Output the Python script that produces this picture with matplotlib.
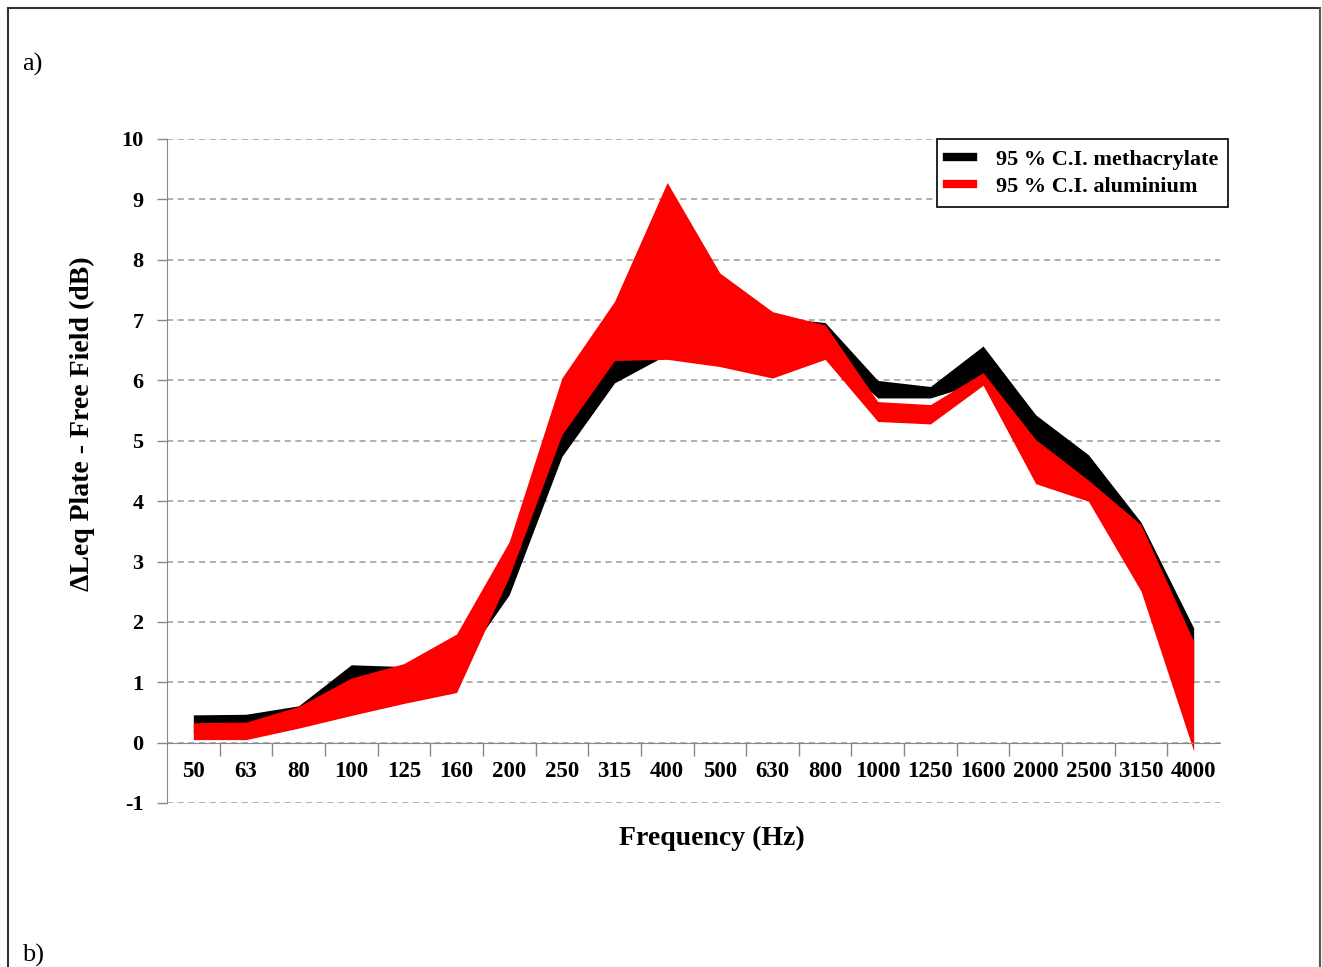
import matplotlib
matplotlib.use("Agg")
import matplotlib.pyplot as plt
import numpy as np
from matplotlib.lines import Line2D

plt.rcParams['font.family'] = ['Liberation Serif', 'DejaVu Serif']
plt.rcParams['font.weight'] = 'bold'
plt.rcParams['axes.unicode_minus'] = False

# one-third octave bands
freqs = ['50', '63', '80', '100', '125', '160', '200', '250', '315', '400',
         '500', '630', '800', '1000', '1250', '1600', '2000', '2500', '3150', '4000']

# 95 % confidence interval, methacrylate plate (dB)
meth_hi = [0.46, 0.47, 0.61, 1.29, 1.26, 1.70, 3.10, 5.60, 6.90, 7.40,
           7.20, 7.05, 6.96, 6.00, 5.90, 6.57, 5.43, 4.77, 3.65, 1.90]
meth_lo = [0.15, 0.15, 0.35, 0.60, 0.80, 1.20, 2.45, 4.74, 5.96, 6.43,
           6.40, 6.20, 6.50, 5.71, 5.71, 5.98, 4.80, 4.30, 3.00, 1.00]

# 95 % confidence interval, aluminium plate (dB)
alu_hi = [0.33, 0.34, 0.60, 1.07, 1.31, 1.80, 3.33, 6.04, 7.31, 9.28,
          7.78, 7.14, 6.92, 5.65, 5.60, 6.13, 5.02, 4.35, 3.61, 1.68]
alu_lo = [0.05, 0.05, 0.24, 0.45, 0.65, 0.83, 2.75, 5.10, 6.33, 6.35,
          6.23, 6.04, 6.35, 5.32, 5.28, 5.92, 4.29, 4.00, 2.51, -0.14]

x = np.arange(len(freqs))

fig = plt.figure(figsize=(13.22, 9.67), dpi=100)
ax = fig.add_axes([167/1322, 1 - 803/967, (1220 - 167)/1322, (803 - 139)/967])

ax.fill_between(x, meth_lo, meth_hi, color='black', lw=0, zorder=3)
ax.fill_between(x, alu_lo, alu_hi, color='#ff0000', lw=0, zorder=4)

ax.set_xlim(-0.5, len(freqs) - 0.5)
ax.set_ylim(-1, 10)

# y axis
ax.set_yticks(range(-1, 11))
ax.yaxis.grid(True, linestyle=(0, (4, 3)), color='#9a9a9a', lw=1.1, zorder=0)
ax.tick_params(axis='y', direction='out', length=7, width=1, color='#888888',
               labelsize=16, pad=10)

# x axis: ticks between bands, labels on bands
ax.set_xticks(x[:-1] + 0.5)
ax.set_xticklabels([])
ax.set_xticks(x, minor=True)
ax.set_xticklabels(freqs, minor=True)
ax.tick_params(axis='x', which='major', direction='out', length=9, width=1,
               color='#888888')
ax.tick_params(axis='x', which='minor', length=0, pad=13, labelsize=16.5)

for s in ['top', 'right']:
    ax.spines[s].set_visible(False)
ax.spines['left'].set_color('#888888')
ax.spines['bottom'].set_color('#888888')
ax.spines['bottom'].set_position(('data', 0))
ax.spines['bottom'].set_zorder(5)

ax.set_ylabel('\u0394Leq Plate - Free Field (dB)', fontsize=20, fontweight='bold')
ax.yaxis.set_label_coords(-0.068, 0.572)
fig.text((618 + 805) / 2 / 1322, 1 - 838 / 967, 'Frequency (Hz)', fontsize=20,
         ha='center', va='center')

handles = [Line2D([], [], color='black', lw=6),
           Line2D([], [], color='#ff0000', lw=6)]
leg = fig.legend(handles, ['95 % C.I. methacrylate', '95 % C.I. aluminium'],
                 loc='upper right', bbox_to_anchor=(1228/1322, 1 - 139/967),
                 prop={'family': 'Liberation Serif', 'weight': 'bold', 'size': 16},
                 frameon=True, fancybox=False, edgecolor='black', framealpha=1,
                 handlelength=1.2, handletextpad=1.0, borderpad=0.45,
                 labelspacing=0.3, borderaxespad=0)
leg.get_frame().set_linewidth(1.2)

# panel frame and labels
fig.add_artist(Line2D([8/1322, 1320/1322], [1 - 8/967, 1 - 8/967],
                      transform=fig.transFigure, color='#333333', lw=1.5))
fig.add_artist(Line2D([8/1322, 8/1322], [0, 1 - 8/967],
                      transform=fig.transFigure, color='#333333', lw=1.5))
fig.add_artist(Line2D([1320/1322, 1320/1322], [0, 1 - 8/967],
                      transform=fig.transFigure, color='#555555', lw=1.5))
fig.text(22/1322, 1 - 64/967, 'a)', fontsize=19, fontweight='normal',
         va='center', ha='left')
fig.text(22/1322, 1 - 955/967, 'b)', fontsize=19, fontweight='normal',
         va='center', ha='left')

fig.savefig('out.png', dpi=100)
